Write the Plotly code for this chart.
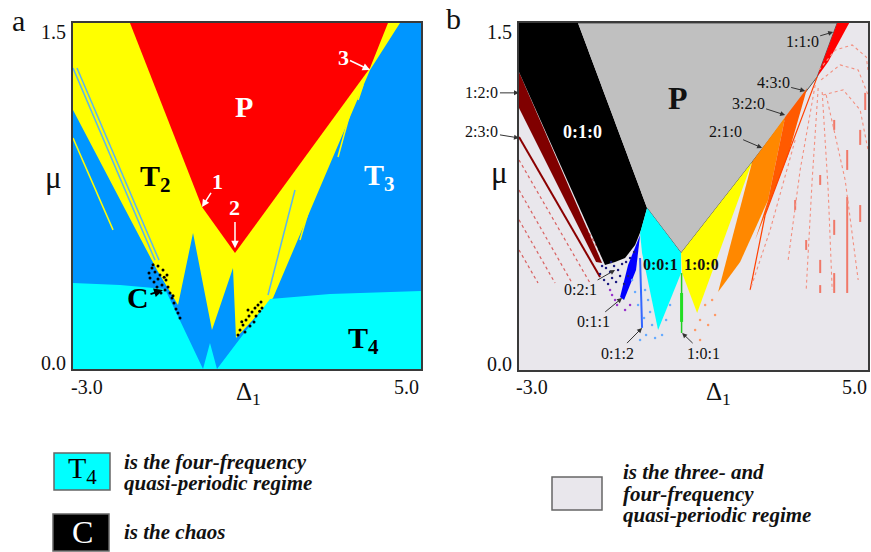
import plotly.graph_objects as go

SERIF = "Liberation Serif, Times New Roman, serif"
W, H = 871, 552

# ---------------- axes ----------------
X_RANGE = [-3.0, 5.0]
Y_RANGE = [0.0, 1.5]
x_tick_labels = ["-3.0", "5.0"]
y_tick_labels = ["0.0", "1.5"]
x_title = "Δ<sub>1</sub>"
y_title = "μ"

# ---------------- panel a : regions ----------------
a_P_x = [-1.690, 4.241, 3.828, 0.724, -0.034]
a_P_y = [1.5, 1.5, 1.305, 0.503, 0.702]
a_T2_x = [-3.0, 4.517, 3.828, 1.598, 0.747, 0.678, 0.195, -0.241, -0.586, -1.069, -3.0]
a_T2_y = [1.5, 1.5, 1.296, 0.308, 0.134, 0.438, 0.169, 0.590, 0.277, 0.429, 1.123]
a_T4_x = [-3.0, -1.920, -0.885, -0.011, 0.149, 0.310, 1.529, 2.908, 5.0, 5.0, -3.0]
a_T4_y = [0.373, 0.364, 0.347, 0.0, 0.113, 0.0, 0.303, 0.325, 0.338, 0.0, 0.0]
a_T3_x = [-3.0, 5.0, 5.0, -3.0]
a_T3_y = [0.0, 0.0, 1.5, 1.5]
# thin resonance lines
a_ltblue_x = [-3.0, -1.115, None, -2.908, -1.023, None, 2.103, 1.483]
a_ltblue_y = [1.305, 0.472, None, 1.305, 0.472, None, 0.776, 0.321]
a_yline_x = [-3.0, -2.080, None, 3.667, 3.552, None, 3.368, 3.092, None, 2.793, 2.218]
a_yline_y = [1.001, 0.603, None, 1.231, 1.166, None, 1.110, 0.919, None, 0.928, 0.559]
# chaos points
a_chaos_x = [-1.184, -1.115, -1.046, -1.000, -0.931, -1.230, -1.138, -1.046, -0.954, -0.862,
             -0.885, -0.816, -0.770, -0.724, -0.678, -0.632, -0.586, -0.540, -1.069, -0.977,
             -1.253, -0.839, -1.160, -0.905, -0.700,
             0.839, 0.908, 0.977, 1.046, 1.115, 1.184, 1.253, 1.322, 0.954, 1.069, 1.161,
             0.793, 1.345, 1.023, 1.207, 0.880, 1.290]
a_chaos_y = [0.438, 0.420, 0.446, 0.407, 0.429, 0.394, 0.377, 0.390, 0.364, 0.386,
             0.342, 0.355, 0.329, 0.308, 0.286, 0.260, 0.243, 0.221, 0.355, 0.329,
             0.416, 0.407, 0.452, 0.398, 0.318,
             0.169, 0.191, 0.212, 0.230, 0.247, 0.264, 0.277, 0.290, 0.160, 0.186, 0.204,
             0.147, 0.264, 0.256, 0.230, 0.205, 0.250]

# ---------------- panel b : regions ----------------
b_bg_x = [-3.0, 5.0, 5.0, -3.0]
b_bg_y = [0.0, 0.0, 1.5, 1.5]
b_P_x = [-1.647, 4.294, 3.835, 2.344, 0.716, -0.064]
b_P_y = [1.5, 1.5, 1.267, 0.899, 0.506, 0.700]
b_010_x = [-3.0, -1.647, -0.064, -0.202, -0.339, -0.569, -0.798, -1.028, -3.0]
b_010_y = [1.5, 1.5, 0.700, 0.605, 0.540, 0.484, 0.467, 0.454, 1.288]
b_120_x = [-3.0, -1.096, -1.234, -3.0]
b_120_y = [1.288, 0.463, 0.467, 1.133]
b_230_x = [-3.0, -1.142]
b_230_y = [1.007, 0.402]
b_dots_left_x = [-3.0, -1.372, None, -3.0, -1.784, None, -3.0, -2.174, None, -3.0, -2.564, None, -2.862, -1.073]
b_dots_left_y = [0.908, 0.376, None, 0.778, 0.376, None, 0.649, 0.376, None, 0.519, 0.376, None, 1.090, 0.484]
b_001_x = [-0.064, 0.716, 0.716, 0.188, -0.179, -0.225]
b_001_y = [0.700, 0.506, 0.419, 0.173, 0.506, 0.592]
b_100_x = [0.716, 2.344, 1.083, 0.739]
b_100_y = [0.506, 0.899, 0.246, 0.419]
b_210_x = [2.344, 3.101, 2.711, 2.069, 1.564]
b_210_y = [0.899, 1.094, 0.735, 0.467, 0.337]
b_320_x = [3.101, 3.606, 3.170, 2.642, 2.413, 2.711]
b_320_y = [1.094, 1.219, 0.930, 0.670, 0.562, 0.735]
b_430_x = [3.835, 2.642, 2.298]
b_430_y = [1.267, 0.670, 0.346]
b_110_x = [4.294, 4.569, 4.087, 3.835]
b_110_y = [1.5, 1.5, 1.332, 1.267]
b_011_x = [-0.225, -0.317, -0.592, -0.683, -0.500]
b_011_y = [0.584, 0.432, 0.303, 0.316, 0.454]
b_012_x = [-0.225, -0.179]
b_012_y = [0.484, 0.182]
b_101_x = [0.727, 0.727]
b_101_y = [0.419, 0.160]
b_101_thick_y = [0.333, 0.208]
b_navy_x = [-1.005, -0.913, -0.821, -0.729, -0.638, -0.546, -0.867, -0.775, -0.959, -0.683,
            -0.454, -0.362, -1.142, -1.050, -0.592, -0.500, -1.096, -0.890]
b_navy_y = [0.441, 0.424, 0.450, 0.432, 0.458, 0.467, 0.398, 0.380, 0.372, 0.406,
            0.484, 0.510, 0.415, 0.389, 0.372, 0.406, 0.450, 0.467]
b_purple_x = [-0.867, -0.798, -0.752, -0.569, -0.454, -0.913]
b_purple_y = [0.324, 0.303, 0.281, 0.259, 0.281, 0.346]
b_ltblue_x = [-0.408, -0.339, -0.110, -0.041, 0.005, -0.133, 0.050, -0.271, 0.119, 0.280,
              -0.087, 0.372, 0.463, -0.225]
b_ltblue_y = [0.389, 0.337, 0.346, 0.303, 0.251, 0.225, 0.195, 0.281, 0.138, 0.151,
              0.151, 0.216, 0.281, 0.130]
b_orange_dots_x = [1.151, 1.266, 1.427, 1.037, 1.335, 1.495, 1.151]
b_orange_dots_y = [0.216, 0.281, 0.303, 0.173, 0.195, 0.238, 0.130]
b_dash_x = [4.523, 4.523, None, 4.225, 4.225, None, 4.225, 4.225, None, 3.904, 3.904, None,
            3.904, 3.904, None, 4.821, 4.821, None, 4.936, 4.936, None, 3.583, 3.583, None,
            4.523, 4.523, None, 4.225, 4.225, None, 3.904, 3.904, None, 3.330, 3.330, None,
            4.821, 4.821]
b_dash_y = [0.748, 0.333, None, 0.649, 0.584, None, 0.419, 0.333, None, 0.476, 0.419, None,
            0.367, 0.333, None, 0.713, 0.640, None, 1.198, 1.124, None, 0.562, 0.519, None,
            0.951, 0.865, None, 1.081, 1.038, None, 0.843, 0.800, None, 0.735, 0.692, None,
            1.038, 0.973]
b_arcs_x = [3.880, 4.248, 4.638, 4.960, 5.0, None,
            3.925, 4.362, 4.775, 5.0, None,
            3.970, 4.431, 4.821, 5.0, None,
            3.789, 3.445, 3.170, None, 3.858, 3.720, 3.583, None, 3.950, 4.087, 4.179,
            None, 4.041, 4.477, 4.775, None, 3.330, 2.757, 2.298]
b_arcs_y = [1.297, 1.383, 1.405, 1.353, 1.297, None,
            1.254, 1.319, 1.297, 1.189, None,
            1.189, 1.211, 1.124, 0.951, None,
            1.232, 0.865, 0.476, None, 1.219, 0.821, 0.346, None, 1.202, 0.778, 0.346,
            None, 1.189, 0.821, 0.389, None, 0.994, 0.605, 0.346]

fig = go.Figure()


def poly(x, y, color, panel, lc=None, lw=0):
    fig.add_trace(go.Scatter(x=x, y=y, fill="toself", fillcolor=color, mode="lines",
                             line=dict(color=lc or color, width=lw), hoverinfo="skip",
                             showlegend=False, xaxis="x" if panel == 1 else "x2",
                             yaxis="y" if panel == 1 else "y2"))


def lines(x, y, color, width, panel, dash="solid"):
    fig.add_trace(go.Scatter(x=x, y=y, mode="lines", line=dict(color=color, width=width, dash=dash),
                             hoverinfo="skip", showlegend=False, connectgaps=False,
                             xaxis="x" if panel == 1 else "x2", yaxis="y" if panel == 1 else "y2"))


def dots(x, y, color, size, panel):
    fig.add_trace(go.Scatter(x=x, y=y, mode="markers", marker=dict(color=color, size=size),
                             hoverinfo="skip", showlegend=False,
                             xaxis="x" if panel == 1 else "x2", yaxis="y" if panel == 1 else "y2"))


# panel a
poly(a_T3_x, a_T3_y, "#0096FF", 1)
poly(a_T2_x, a_T2_y, "#FFFF00", 1)
lines(a_ltblue_x, a_ltblue_y, "#5AB4F0", 1.5, 1)
lines(a_yline_x, a_yline_y, "#FFFF00", 1.5, 1)
poly(a_T4_x, a_T4_y, "#00FFFF", 1)
poly(a_P_x, a_P_y, "#FF0000", 1)
dots(a_chaos_x, a_chaos_y, "#000000", 3, 1)

# panel b
poly(b_bg_x, b_bg_y, "#E9E7EC", 2)
lines(b_dots_left_x, b_dots_left_y, "#D86060", 1.2, 2, dash="dot")
poly(b_120_x, b_120_y, "#800000", 2)
lines(b_230_x, b_230_y, "#8B0000", 2, 2)
poly(b_010_x, b_010_y, "#000000", 2)
poly(b_P_x, b_P_y, "#C0C0C0", 2, lc="#555555", lw=1)
poly(b_001_x, b_001_y, "#00FFFF", 2)
poly(b_100_x, b_100_y, "#FFFF00", 2)
poly(b_210_x, b_210_y, "#FF8800", 2)
poly(b_320_x, b_320_y, "#FF5A00", 2)
lines(b_430_x, b_430_y, "#FF4000", 1.2, 2)
poly(b_110_x, b_110_y, "#FF0000", 2)
poly(b_011_x, b_011_y, "#0000FF", 2)
lines(b_012_x, b_012_y, "#3366FF", 2, 2)
lines(b_101_x, b_101_y, "#22CC22", 1.5, 2)
lines(b_101_x, b_101_thick_y, "#22DD22", 3, 2)
dots(b_navy_x, b_navy_y, "#1A1A80", 2.5, 2)
dots(b_purple_x, b_purple_y, "#9933CC", 2.5, 2)
dots(b_ltblue_x, b_ltblue_y, "#66AAFF", 2.5, 2)
dots(b_orange_dots_x, b_orange_dots_y, "#FF9966", 2.5, 2)
lines(b_dash_x, b_dash_y, "#F07868", 2, 2)
lines(b_arcs_x, b_arcs_y, "#F29080", 1.1, 2, dash="dot")

ann = []


def text(t, x, y, xref, yref, size, color="#111111", xanchor="center", yanchor="middle",
         xshift=0, yshift=0):
    ann.append(dict(text=t, x=x, y=y, xref=xref, yref=yref, showarrow=False,
                    font=dict(family=SERIF, size=size, color=color),
                    xanchor=xanchor, yanchor=yanchor, xshift=xshift, yshift=yshift))


def ptext(t, px, py, size, color="#111111", xanchor="center"):
    text(t, px / W, 1 - py / H, "paper", "paper", size, color=color, xanchor=xanchor)


def callout(t, x, y, tx, ty, xref, yref, size, color, acolor, aw=1.0, head=2):
    ann.append(dict(text=t, x=x, y=y, ax=tx, ay=ty, xref=xref, yref=yref, axref=xref, ayref=yref,
                    showarrow=True, arrowhead=head, arrowsize=1, arrowwidth=aw, arrowcolor=acolor,
                    standoff=0, font=dict(family=SERIF, size=size, color=color)))


# axis tick labels and titles (placed around each panel frame)
for xr, yr in (("x", "y"), ("x2", "y2")):
    text(y_tick_labels[1], -3.0, 1.46, xr, yr, 20, xanchor="right", xshift=-5)
    text(y_tick_labels[0], -3.0, 0.025, xr, yr, 20, xanchor="right", xshift=-5)
ptext(x_tick_labels[0], 87, 387, 20)
ptext(x_tick_labels[1], 406, 387, 20)
ptext(x_tick_labels[0], 532, 387, 20)
ptext(x_tick_labels[1], 854, 387, 20)
ptext(x_title, 248, 393, 25)
ptext(x_title, 718, 393, 25)
ptext(y_title, 53, 177, 31)
ptext(y_title, 500, 173, 31)

ptext("a", 18, 20, 30)
ptext("b", 453, 18, 30)

# panel a labels
text("<b>P</b>", 0.931, 1.136, "x", "y", 30, color="white")
text("<b>T<sub>2</sub></b>", -1.115, 0.828, "x", "y", 30, color="black")
text("<b>T<sub>3</sub></b>", 4.057, 0.832, "x", "y", 30, color="white")
text("<b>T<sub>4</sub></b>", 3.667, 0.126, "x", "y", 30, color="black")
callout("<b>C</b>", -0.931, 0.342, -1.506, 0.308, "x", "y", 30, "black", "black", aw=1.8)
callout("<b>1</b>", -0.034, 0.702, 0.333, 0.811, "x", "y", 22, "white", "white", aw=1.5)
callout("<b>2</b>", 0.724, 0.524, 0.724, 0.698, "x", "y", 22, "white", "white", aw=1.5)
callout("<b>3</b>", 3.828, 1.296, 3.207, 1.352, "x", "y", 22, "white", "white", aw=1.5)

# panel b labels
text("<b>P</b>", 0.647, 1.176, "x2", "y2", 32, color="#111111")
text("<b>0:1:0</b>", -1.555, 1.029, "x2", "y2", 18, color="white")
text("<b>0:0:1</b>", 0.234, 0.458, "x2", "y2", 16, color="#111111")
text("<b>1:0:0</b>", 1.174, 0.458, "x2", "y2", 16, color="#111111")
b_callouts = [
    ("1:2:0", -3.0, 1.198, -3.849, 1.198),
    ("2:3:0", -3.0, 1.003, -3.849, 1.029),
    ("1:1:0", 4.202, 1.461, 3.491, 1.422),
    ("4:3:0", 3.560, 1.206, 2.826, 1.241),
    ("3:2:0", 3.101, 1.102, 2.252, 1.154),
    ("2:1:0", 2.573, 0.960, 1.725, 1.029),
    ("0:2:1", -0.798, 0.432, -1.601, 0.346),
    ("0:1:1", -0.638, 0.311, -1.303, 0.208),
    ("0:1:2", -0.179, 0.182, -0.752, 0.073),
    ("1:0:1", 0.739, 0.160, 1.220, 0.073),
]
for lab, hx, hy, tx, ty in b_callouts:
    callout(lab, hx, hy, tx, ty, "x2", "y2", 16, "#111111", "#333333", aw=1.0)

# legend (bottom)
shapes = [
    dict(type="rect", xref="paper", yref="paper", x0=54 / W, x1=110 / W, y0=1 - 490 / H, y1=1 - 453 / H,
         fillcolor="#00FFFF", line=dict(color="#666666", width=1.5)),
    dict(type="rect", xref="paper", yref="paper", x0=53 / W, x1=109 / W, y0=1 - 551 / H, y1=1 - 514 / H,
         fillcolor="#000000", line=dict(color="#666666", width=1.5)),
    dict(type="rect", xref="paper", yref="paper", x0=552 / W, x1=602 / W, y0=1 - 510 / H, y1=1 - 477 / H,
         fillcolor="#E9E7EC", line=dict(color="#666666", width=1.5)),
]
ptext("T<sub>4</sub>", 82, 470, 30, color="black")
ptext("C", 82, 532, 32, color="white")
legend_lines_left = ["is the four-frequency", "quasi-periodic regime"]
legend_line_chaos = "is the chaos"
legend_lines_right = ["is the three- and", "four-frequency", "quasi-periodic regime"]
for i, s in enumerate(legend_lines_left):
    ptext("<b><i>" + s + "</i></b>", 122, 462 + 21 * i, 21, xanchor="left")
ptext("<b><i>" + legend_line_chaos + "</i></b>", 122, 532, 21, xanchor="left")
for i, s in enumerate(legend_lines_right):
    ptext("<b><i>" + s + "</i></b>", 621, 472 + 21.5 * i, 21, xanchor="left")

axis_common = dict(range=X_RANGE, showticklabels=False, ticks="", showgrid=False, zeroline=False,
                   showline=True, mirror=True, linecolor="#3a3a3a", linewidth=1.5, fixedrange=True)
yaxis_common = dict(range=Y_RANGE, showticklabels=False, ticks="", showgrid=False, zeroline=False,
                    showline=True, mirror=True, linecolor="#3a3a3a", linewidth=1.5, fixedrange=True)

fig.update_layout(
    width=W, height=H, autosize=False,
    margin=dict(l=0, r=0, t=0, b=0),
    paper_bgcolor="white", plot_bgcolor="white",
    xaxis=dict(domain=[73 / W, 421 / W], anchor="y", **axis_common),
    yaxis=dict(domain=[1 - 369 / H, 1 - 23 / H], anchor="x", **yaxis_common),
    xaxis2=dict(domain=[519 / W, 868 / W], anchor="y2", **axis_common),
    yaxis2=dict(domain=[1 - 370 / H, 1 - 23 / H], anchor="x2", **yaxis_common),
    annotations=ann,
    shapes=shapes,
    showlegend=False,
)

fig.write_html("out.html")
